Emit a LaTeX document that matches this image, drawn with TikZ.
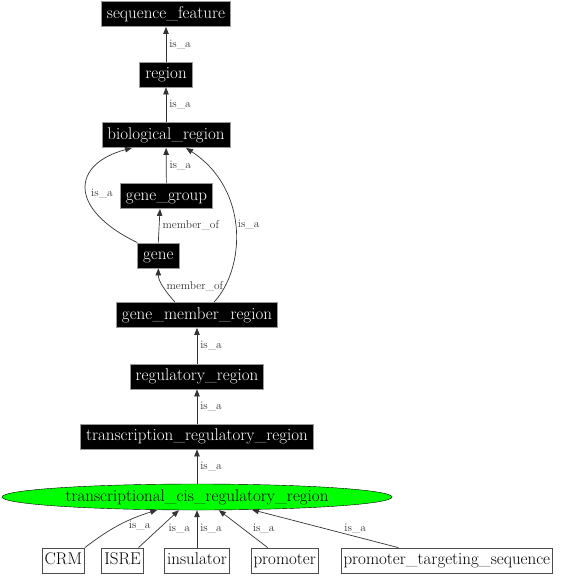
\documentclass[tikz,border=0pt]{standalone}
\usepackage{tikz}
\usetikzlibrary{arrows.meta, shapes.geometric}

\newcommand{\termfont}{\fontsize{17}{20}\selectfont}
\newcommand{\relfont}{\fontsize{11.4}{13}\selectfont}

\begin{document}
\begin{tikzpicture}[
  x=1pt, y=-1pt,
  term/.style={draw=black!40, line width=0.8pt, fill=black, text=white,
               font=\termfont, minimum height=25pt, inner xsep=5.5pt,
               inner ysep=0pt, text height=11.8pt, text depth=3.6pt},
  leaf/.style={draw=black!70, line width=0.8pt, fill=white,
               font=\termfont, minimum height=25pt, inner xsep=2.5pt,
               inner ysep=0pt, text height=11.8pt, text depth=3.6pt},
  focus/.style={draw, ellipse, fill=green, font=\termfont,
                minimum width=390pt, minimum height=26pt, inner sep=0pt},
  rel/.style={font=\relfont, inner sep=0pt, anchor=west},
  isa/.style={-{Triangle[length=7pt, width=5.5pt]}, black!80, line width=0.7pt}
]
\useasboundingbox (0,0) rectangle (561,576);
% terms of the ontology
\node[term] (sf) at (166,14) {sequence\_feature};
\node[term] (reg) at (166,74.5) {region};
\node[term] (bio) at (166,135) {biological\_region};
\node[term] (gg) at (166.5,196) {gene\_group};
\node[term] (gene) at (158.3,255.5) {gene};
\node[term] (gmr) at (197,315) {gene\_member\_region};
\node[term] (rr) at (197,376.5) {regulatory\_region};
\node[term] (trr) at (197,436.5) {transcription\_regulatory\_region};
% the focus term
\node[focus] (tcr) at (197,497) {transcriptional\_cis\_regulatory\_region};
% its children
\node[leaf] (crm) at (63.3,560.5) {CRM};
\node[leaf] (isre) at (122.5,560.5) {ISRE};
\node[leaf] (ins) at (197,560.5) {insulator};
\node[leaf] (prom) at (284.7,560.5) {promoter};
\node[leaf] (pts) at (446.8,560.5) {promoter\_targeting\_sequence};
% the spine
\draw[isa] (reg) -- (sf) node[rel, midway, xshift=3pt] {is\_a};
\draw[isa] (bio) -- (reg) node[rel, midway, xshift=3pt] {is\_a};
\draw[isa] (gg) -- (bio) node[rel, midway, xshift=3pt] {is\_a};
\draw[isa] (gene.north) -- ([xshift=-6.5pt]gg.south)
  node[rel, midway, xshift=3pt] {member\_of};
\draw[isa] (gene.north west) .. controls +(-70,-34) and +(-60,16) ..
  ([xshift=-34pt]bio.south) node[rel, pos=0.5, xshift=5pt, yshift=-5pt] {is\_a};
\draw[isa] ([xshift=-22pt]gmr.north) .. controls +(-9,-10) and +(0,13) ..
  (gene.south) node[rel, pos=0.45, xshift=2pt, yshift=2pt] {member\_of};
\draw[isa] ([xshift=17pt]gmr.north) .. controls +(31,-33) and +(64,42) ..
  ([xshift=20pt]bio.south) node[rel, pos=0.5, xshift=2pt, yshift=4pt] {is\_a};
\draw[isa] (rr) -- (gmr) node[rel, midway, xshift=3pt] {is\_a};
\draw[isa] (trr) -- (rr) node[rel, midway, xshift=3pt] {is\_a};
\draw[isa] (tcr) -- (trr) node[rel, midway, xshift=3pt] {is\_a};
% children of the focus term
\draw[isa] (crm.north east) to[bend left=10]
  node[rel, pos=0.5, xshift=9.5pt] {is\_a} (tcr.198.3);
\draw[isa] ([xshift=16pt]isre.north) --
  node[rel, pos=0.5, xshift=9.5pt] {is\_a} (tcr.216.7);
\draw[isa] (ins) -- node[rel, pos=0.5, xshift=3pt] {is\_a} (tcr);
\draw[isa] ([xshift=-17pt]prom.north) --
  node[rel, pos=0.5, xshift=9.5pt] {is\_a} (tcr.329.1);
\draw[isa] ([xshift=-48.5pt]pts.north) --
  node[rel, pos=0.5, xshift=19pt] {is\_a} (tcr.347.6);
\end{tikzpicture}
\end{document}
